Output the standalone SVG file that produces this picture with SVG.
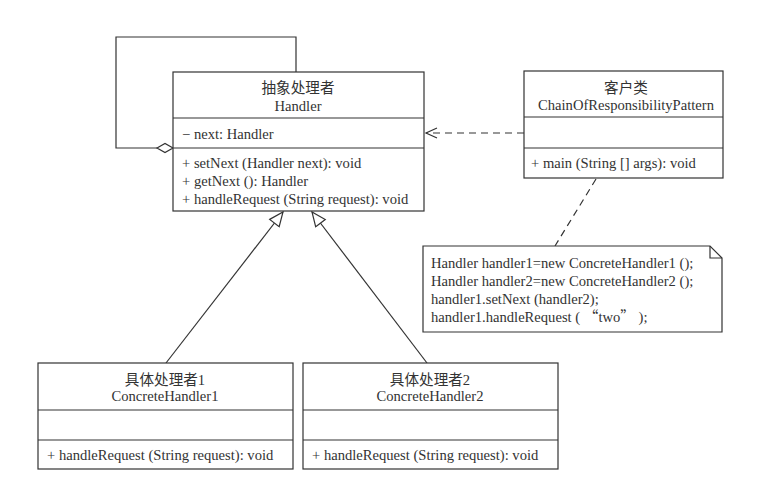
<svg xmlns="http://www.w3.org/2000/svg" width="758" height="482" viewBox="0 0 758 482">
<style>
.box{fill:#fff;stroke:#333;stroke-width:1.2}
.ln{fill:none;stroke:#333;stroke-width:1.2}
.dash{fill:none;stroke:#333;stroke-width:1.2;stroke-dasharray:7,5}
text{font-family:"Liberation Serif","Noto Sans CJK SC",serif;font-size:14.6px;fill:#333}
.c{text-anchor:middle}
.cjk{font-family:"Noto Sans CJK SC",sans-serif}
</style>
<defs>
<marker id="open" markerWidth="14" markerHeight="12" refX="12" refY="6" orient="auto" markerUnits="userSpaceOnUse">
<path d="M1,1 L12,6 L1,11" fill="none" stroke="#333" stroke-width="1.2" stroke-dasharray="none"/>
</marker>
<marker id="tri" markerWidth="16" markerHeight="14" refX="15" refY="7" orient="auto" markerUnits="userSpaceOnUse">
<path d="M1,1 L15,7 L1,13 Z" fill="#fff" stroke="#333" stroke-width="1.2"/>
</marker>
</defs>
<rect width="758" height="482" fill="#fff"/>
<g id="connectors">
<path class="ln" d="M296,72 V37 H116 V148 H157"/>
<path d="M157,148 L165,143.5 L173,148 L165,152.5 Z" fill="#fff" stroke="#333" stroke-width="1.2"/>
<line class="dash" x1="524" y1="133" x2="426" y2="133" marker-end="url(#open)"/>
<line class="dash" x1="596" y1="179" x2="555" y2="246"/>
<line class="ln" x1="166" y1="363" x2="283" y2="212" marker-end="url(#tri)"/>
<line class="ln" x1="427" y1="363" x2="312" y2="212" marker-end="url(#tri)"/>
</g>
<g id="handler">
<rect class="box" x="173" y="72" width="251" height="139"/>
<line class="ln" x1="173" y1="118" x2="424" y2="118"/>
<line class="ln" x1="173" y1="148" x2="424" y2="148"/>
<text class="c" x="298" y="93">抽象处理者</text>
<text class="c" x="298" y="111">Handler</text>
<text x="182" y="139">− next: Handler</text>
<text x="182" y="168">+ setNext (Handler next): void</text>
<text x="182" y="186">+ getNext (): Handler</text>
<text x="182" y="204">+ handleRequest (String request): void</text>
</g>
<g id="client">
<rect class="box" x="524" y="71" width="199" height="107"/>
<line class="ln" x1="524" y1="117" x2="723" y2="117"/>
<line class="ln" x1="524" y1="148" x2="723" y2="148"/>
<text class="c" x="626" y="93">客户类</text>
<text class="c" x="626" y="110">ChainOfResponsibilityPattern</text>
<text x="531" y="168">+ main (String [] args): void</text>
</g>
<g id="note">
<path class="box" d="M423,246 H710 L722,258 V332 H423 Z"/>
<path class="ln" d="M710,246 V258 H722"/>
<text x="431" y="268">Handler handler1=new ConcreteHandler1 ();</text>
<text x="431" y="286">Handler handler2=new ConcreteHandler2 ();</text>
<text x="431" y="304">handler1.setNext (handler2);</text>
<text x="431" y="322">handler1.handleRequest ( <tspan class="cjk">“</tspan>two<tspan class="cjk">”</tspan> );</text>
</g>
<g id="concrete1">
<rect class="box" x="38" y="363" width="255" height="106"/>
<line class="ln" x1="38" y1="410" x2="293" y2="410"/>
<line class="ln" x1="38" y1="440" x2="293" y2="440"/>
<text class="c" x="165" y="385">具体处理者1</text>
<text class="c" x="165" y="401">ConcreteHandler1</text>
<text x="47" y="460">+ handleRequest (String request): void</text>
</g>
<g id="concrete2">
<rect class="box" x="303" y="363" width="255" height="106"/>
<line class="ln" x1="303" y1="410" x2="558" y2="410"/>
<line class="ln" x1="303" y1="440" x2="558" y2="440"/>
<text class="c" x="430" y="385">具体处理者2</text>
<text class="c" x="430" y="401">ConcreteHandler2</text>
<text x="312" y="460">+ handleRequest (String request): void</text>
</g>
</svg>
